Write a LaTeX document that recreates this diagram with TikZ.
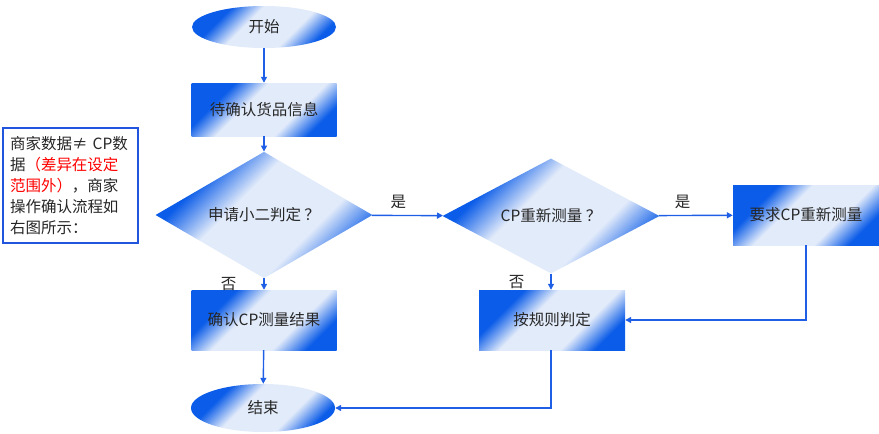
\documentclass[tikz,border=0pt]{standalone}
\usepackage{fontspec}
\setmainfont{Noto Sans CJK SC}
\usetikzlibrary{shapes.geometric,arrows.meta}
\definecolor{lineblue}{HTML}{1F5FE6}
\definecolor{shblue}{HTML}{0B5CE8}
\definecolor{shlight}{HTML}{E2EBFA}
\definecolor{noteborder}{HTML}{2255DD}
\pgfdeclareverticalshading{fcshade}{100bp}{color(0bp)=(shblue); color(25bp)=(shblue); color(37bp)=(shlight); color(58bp)=(shlight); color(70bp)=(shblue); color(100bp)=(shblue)}
\tikzset{
  base/.style={inner sep=0pt, shading=fcshade, shading angle=45, font=\fontsize{15.5}{18}\selectfont, text=black!85},
  termnode/.style={base, ellipse, minimum width=144pt},
  procbox/.style={base, rectangle, minimum width=145pt},
  decision/.style={base, diamond, minimum width=217pt, minimum height=79pt},
  conn/.style={draw=lineblue, line width=1.4pt, -{Triangle[length=6pt,width=6pt]}},
  lbl/.style={font=\fontsize{15.5}{18}\selectfont, text=black!85, inner sep=0pt},
}
\begin{document}
\begin{tikzpicture}[x=1pt,y=-1pt]
\useasboundingbox (0,0) rectangle (879,434);
\node[termnode, minimum height=42pt] (start) at (264,27) {开始};
\node[procbox, minimum height=53pt] (b1) at (264,109.5) {待确认货品信息};
\node[decision] (d1) at (264,215) {申请小二判定 ？};
\node[decision] (d2) at (551,216) {CP重新测量 ？};
\node[procbox, minimum width=146pt, minimum height=60pt] (b3) at (806,215) {要求CP重新测量};
\node[procbox, minimum height=60pt] (b2) at (264,320) {确认CP测量结果};
\node[procbox, minimum width=146pt, minimum height=60pt] (b4) at (552,320) {按规则判定};
\node[termnode, minimum height=48pt] (end) at (263,408) {结束};
\node[draw=noteborder, line width=1.6pt, minimum width=135pt, minimum height=115pt, text width=121pt, inner xsep=7pt, align=left, font=\fontsize{15.5}{21}\selectfont, text=black!85] (note) at (70.5,185.5)
  {商家数据≠ CP数\\据\textcolor{red}{（差异在设定}\\\textcolor{red}{范围外）}，商家\\操作确认流程如\\右图所示：};
\draw[conn] (start) -- (b1);
\draw[conn] (b1) -- (d1);
\draw[conn] (d1) -- (d2) node[lbl, pos=0.37, above=6pt] {是};
\draw[conn] (d2) -- (b3) node[lbl, pos=0.32, above=6pt] {是};
\draw[conn] (d1) -- (b2) node[lbl, midway, left=27pt] {否};
\draw[conn] (d2.south) -- (d2.south |- b4.north) node[lbl, midway, left=26pt] {否};
\draw[conn] (b3.south) |- (b4.east);
\draw[conn] (b2) -- (end);
\draw[conn] ([xshift=-1pt]b4.south) |- (end.east);
\end{tikzpicture}
\end{document}
